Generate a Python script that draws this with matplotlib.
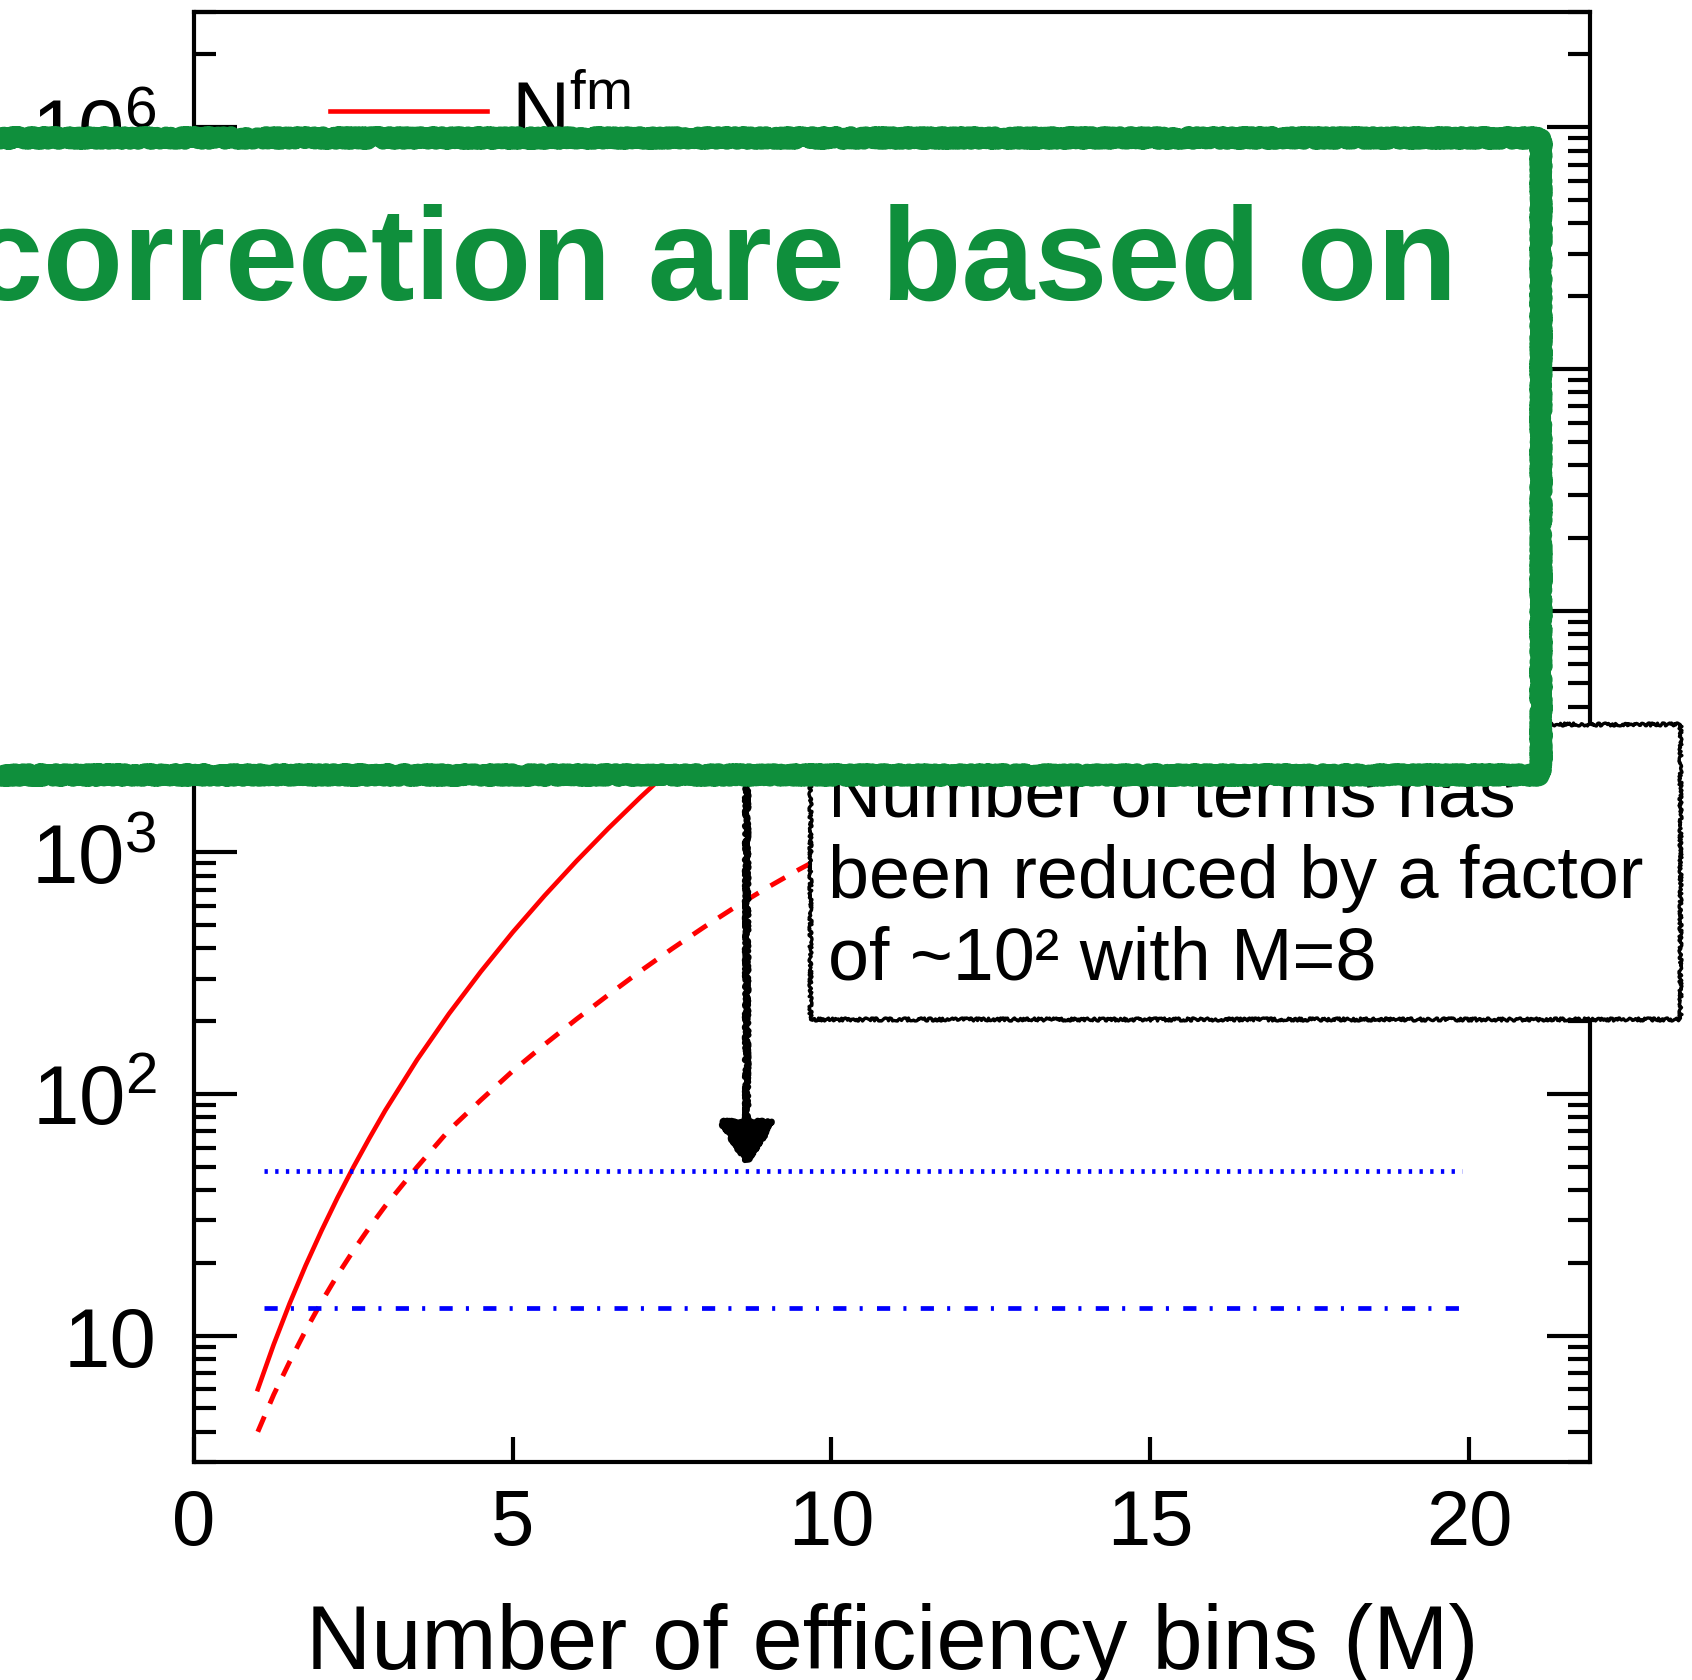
import numpy as np
import matplotlib
matplotlib.use('Agg')
import matplotlib.pyplot as plt
from matplotlib.ticker import FixedLocator, FuncFormatter, LogLocator, NullFormatter, NullLocator
from matplotlib.patches import Rectangle

plt.rcParams['font.family'] = ['Liberation Sans', 'DejaVu Sans']
plt.rcParams['mathtext.fontset'] = 'custom'
plt.rcParams['mathtext.rm'] = 'Liberation Sans'
plt.rcParams['mathtext.it'] = 'Liberation Sans:italic'
plt.rcParams['mathtext.bf'] = 'Liberation Sans:bold'
plt.rcParams['lines.scale_dashes'] = False

# values (number of terms vs number of bins M)
m_fm = [1, 1.25, 1.5, 1.75, 2, 2.25, 2.5, 2.75, 3, 3.5, 4, 4.5, 5, 5.5, 6, 6.5, 7, 7.5, 8]
n_fm = [6.0, 9.2, 13.6, 19.5, 27.2, 37.2, 49.8, 65.6, 85.5, 138.7, 214.8, 321, 467, 662,
        920, 1256, 1687, 2234, 2917]

m_reduced = [1, 1.25, 1.5, 1.75, 2, 2.25, 2.5, 2.75, 3, 3.5, 4, 4.5, 5, 5.5, 6, 6.5, 7,
             7.5, 8, 8.5, 9, 9.5, 10]
n_reduced = [4.0, 5.7, 7.8, 10.5, 13.8, 17.8, 22.5, 28.0, 34.4, 49.9, 70.8, 94.4, 124.5,
             160.3, 204, 257, 322, 399, 490, 596, 716, 851, 1000]

m_flat = [1.1, 19.9]
n_flat_dotted = [48, 48]
n_flat_dashdot = [13, 13]

x_ticks = [0, 5, 10, 15, 20]
y_ticks = [10, 1e2, 1e3, 1e4, 1e5, 1e6]

legend_label = r'$\mathregular{N_c^{fm}}$'
xlabel = 'Number of efficiency bins (M)'
overlay_text = 'correction are based on'
note_text = 'Number of terms has\nbeen reduced by a factor\nof ~10\u00b2 with M=8'
arrow_m = 8.67
arrow_tip = 50.5
arrow_tail = 3000

green = '#0F8F3C'

fig = plt.figure(figsize=(16.92, 16.81), dpi=100)
ax = fig.add_axes([0.1147, 0.1297, 0.825, 0.8626])

ax.plot(m_fm, n_fm, color='red', lw=3.3, label=legend_label)
ax.plot(m_reduced, n_reduced, color='red', lw=3.5, ls=(0, (12, 10)))
ax.plot(m_flat, n_flat_dotted, color='blue', lw=3.4, ls=(0, (2.4, 5.3)))
ax.plot(m_flat, n_flat_dashdot, color='blue', lw=3.4, ls=(0, (9.5, 9.5, 2.2, 10.3)))

ax.set_yscale('log')
ax.set_xlim(0, 21.9)
ax.set_ylim(3, 3e6)

ax.set_xticks(x_ticks)
ax.xaxis.set_minor_locator(NullLocator())
ax.yaxis.set_major_locator(FixedLocator(y_ticks))
ax.yaxis.set_minor_locator(LogLocator(base=10, subs=range(2, 10), numticks=30))
ax.yaxis.set_minor_formatter(NullFormatter())
ax.yaxis.set_major_formatter(FuncFormatter(
    lambda v, p: '10' if round(v) == 10 else r'$\mathregular{10^{%d}}$' % round(np.log10(v))))

ax.tick_params(axis='x', which='major', direction='in', length=18, width=3.0,
               labelsize=56, pad=18, top=False)
ax.tick_params(axis='y', which='major', direction='in', length=31, width=3.0,
               labelsize=60, pad=27, right=True)
ax.tick_params(axis='y', which='minor', direction='in', length=16, width=3.0, right=True)
for s in ax.spines.values():
    s.set_linewidth(3.0)
ax.set_xlabel(xlabel, fontsize=65, labelpad=30)

ax.legend(loc='upper left', bbox_to_anchor=(0.0974, 0.963), frameon=False, fontsize=58,
          handlelength=1.95, handletextpad=0.3, borderpad=0, borderaxespad=0)

# hand drawn arrow
arr = ax.annotate('', xy=(arrow_m, arrow_tip), xytext=(arrow_m, arrow_tail),
                  arrowprops=dict(arrowstyle='-|>,head_length=1.35,head_width=0.9',
                                  mutation_scale=20, lw=4.5, color='black',
                                  shrinkA=0, shrinkB=0, joinstyle='round'))
arr.arrow_patch.set_sketch_params(1.8, 3, 8)

# callout box with the note
note_box = Rectangle((810 / 1692, 1 - 1020 / 1681), 870 / 1692, 295 / 1681,
                     transform=fig.transFigure, facecolor='white', edgecolor='black',
                     lw=2.4, zorder=1, joinstyle='round')
note_box.set_sketch_params(1.5, 3, 10)
fig.add_artist(note_box)
fig.text(828 / 1692, 1 - 980 / 1681, note_text, fontsize=53, va='baseline',
         linespacing=1.24, zorder=1.5)

# green overlay box
fill = Rectangle((-0.02, 0.5384), 0.9308, 0.3789, transform=fig.transFigure,
                 facecolor='white', edgecolor='none', zorder=2)
fig.add_artist(fill)
edge = Rectangle((-0.02, 0.5384), 0.9308, 0.3789, transform=fig.transFigure,
                 facecolor='none', edgecolor=green, lw=13, zorder=2.1, joinstyle='round')
edge.set_sketch_params(2.8, 2.5, 4)
fig.add_artist(edge)
fig.text(1457 / 1692, 1 - 300 / 1681, overlay_text, fontsize=94.5, fontweight='bold',
         color=green, ha='right', va='baseline', zorder=3)

fig.savefig('out.png', dpi=100)
